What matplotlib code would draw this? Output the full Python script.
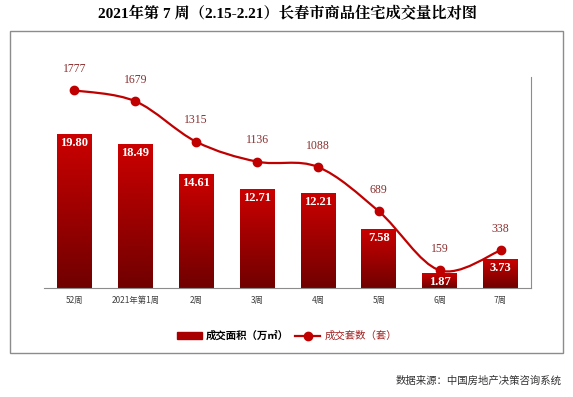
import matplotlib
matplotlib.use("Agg")
import matplotlib.pyplot as plt
import numpy as np
from matplotlib.path import Path
from matplotlib.patches import PathPatch, Rectangle
from matplotlib.lines import Line2D
from matplotlib.colors import LinearSegmentedColormap

plt.rcParams['font.family'] = ['Noto Sans CJK SC', 'DejaVu Sans']

categories = ['52周', '2021年第1周', '2周', '3周', '4周', '5周', '6周', '7周']
area = [19.80, 18.49, 14.61, 12.71, 12.21, 7.58, 1.87, 3.73]
units = [1777, 1679, 1315, 1136, 1088, 689, 159, 338]
title = '2021年第 7 周（2.15-2.21）长春市商品住宅成交量比对图'
source = '数据来源：中国房地产决策咨询系统'

W, H = 573, 397
fig = plt.figure(figsize=(W/100, H/100), dpi=100)

# outer frame
fig.patches.append(Rectangle((9.5/W, 1-353/H), 553.5/W, 322/H, transform=fig.transFigure,
                             fill=False, edgecolor='#8c8c8c', lw=1.0))

ax = fig.add_axes([44/W, 1-288/H, 487/W, 211/H])
ax2 = ax.twinx()
x = np.arange(len(categories))
ax.set_xlim(-0.5, len(categories)-0.5)
ax.set_ylim(0, 27.1)
ax2.set_ylim(0, 1897)

cmap = LinearSegmentedColormap.from_list('g', ['#700000', '#cc0000'])
grad = np.linspace(0, 1, 256).reshape(-1, 1)
bw = 0.57
bars = ax.bar(x, area, width=bw, color='none', edgecolor='none', zorder=2)
for b in bars:
    x0, y0, w, h = b.get_x(), b.get_y(), b.get_width(), b.get_height()
    im = ax.imshow(grad, cmap=cmap, origin='lower', aspect='auto',
                   extent=(x0, x0+w, y0, y0+h), zorder=2)
    im.set_clip_path(b)
ax.set_xlim(-0.5, len(categories)-0.5)
ax.set_ylim(0, 27.1)

for xi, v in zip(x, area):
    ax.text(xi, v - 0.35, f'{v:.2f}', ha='center', va='top', color='white',
            fontsize=9, fontweight='bold', family=['Liberation Serif', 'DejaVu Serif'], zorder=5)

# smooth line (Catmull-Rom bezier)
P = np.column_stack([x, units]).astype(float)
verts = [P[0]]
codes = [Path.MOVETO]
n = len(P)
for i in range(n-1):
    p0 = P[i-1] if i > 0 else P[i]
    p1, p2 = P[i], P[i+1]
    p3 = P[i+2] if i+2 < n else P[i+1]
    c1 = p1 + (p2 - p0)/6
    c2 = p2 - (p3 - p1)/6
    verts += [c1, c2, p2]
    codes += [Path.CURVE4]*3
ax2.add_patch(PathPatch(Path(verts, codes), fill=False, edgecolor='#c00000', lw=1.6, zorder=3))
ax2.plot(x, units, linestyle='none', marker='o', ms=6, color='#c00000', zorder=4)
for xi, v in zip(x, units):
    ax2.annotate(f'{v}', (xi, v), xytext=(0, 11), textcoords='offset points', ha='center',
                 va='bottom', color='#8b2f2f', fontsize=8.5,
                 family=['Liberation Serif', 'DejaVu Serif'])

for a in (ax, ax2):
    for s in ['top', 'left']:
        a.spines[s].set_visible(False)
    a.set_yticks([])
ax.spines['right'].set_visible(False)
ax2.spines['bottom'].set_visible(False)
ax2.spines['right'].set_color('#8c8c8c')
ax.spines['bottom'].set_color('#8c8c8c')
ax.set_xticks(x)
ax.set_xticklabels(categories, fontsize=6, color='#404040')
ax.tick_params(axis='x', length=0, pad=6)

fig.text(287/W, 1-14/H, title, ha='center', va='center', fontsize=11, fontweight='bold',
         family=['Liberation Serif', 'Noto Serif CJK SC', 'Noto Sans CJK SC'])

h1 = Rectangle((0, 0), 1, 1, color='#a80000')
h2 = Line2D([], [], color='#c00000', marker='o', ms=6, lw=1.6)
leg = fig.legend([h1, h2], ['成交面积（万㎡）', '成交套数（套）'], loc='center',
                 bbox_to_anchor=(287/W, 1-336/H), ncol=2, frameon=False, fontsize=7.5,
                 handlelength=2.4, handleheight=0.55, columnspacing=0.6, handletextpad=0.4)
leg.get_texts()[0].set_fontweight('bold')
leg.get_texts()[1].set_color('#a02020')

fig.text(562/W, 1-381/H, source, ha='right', va='center', fontsize=7.5, color='#333333')

fig.savefig('out.png', dpi=100)
